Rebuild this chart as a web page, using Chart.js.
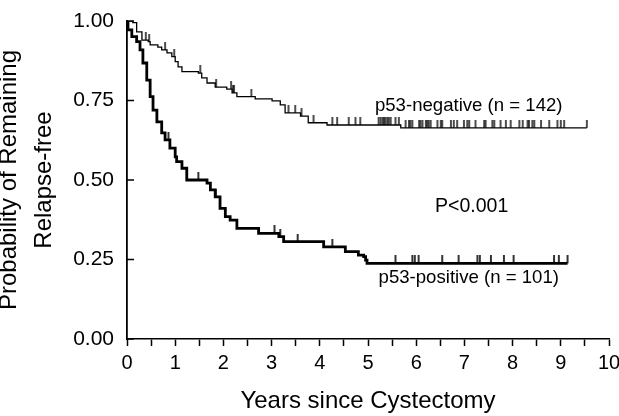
<!DOCTYPE html>
<html>
<head>
<meta charset="utf-8">
<script src="https://cdn.jsdelivr.net/npm/chart.js@4/dist/chart.umd.min.js"></script>
<style>
html,body{margin:0;padding:0;background:#fff;}
#wrap{width:619px;height:416px;position:relative;}
</style>
</head>
<body>
<div id="wrap"><canvas id="c" width="619" height="416"></canvas></div>
<script>
// Kaplan-Meier curves: time (years) where survival drops, and survival after the drop
const negTimes = [0, 0.12, 0.20, 0.31, 0.44, 0.48, 0.64, 0.72, 0.83, 0.93, 1.00, 1.06, 1.14, 1.48, 1.55, 1.66, 1.83, 2.07, 2.18, 2.28, 2.66, 3.01, 3.18, 3.28, 3.60, 3.76, 4.15, 5.68, 9.54];
const negSurv  = [1.00, 0.995, 0.966, 0.94, 0.935, 0.925, 0.918, 0.909, 0.90, 0.888, 0.872, 0.856, 0.841, 0.836, 0.821, 0.805, 0.792, 0.786, 0.774, 0.762, 0.755, 0.749, 0.736, 0.711, 0.701, 0.680, 0.673, 0.664, 0.664];
const negCensor = [0.04, 0.08, 0.39, 0.46, 0.79, 0.98, 1.52, 1.85, 2.16, 2.20, 2.22, 2.58, 3.35, 3.49, 3.62, 3.87, 4.26, 4.36, 4.60, 4.74, 4.84, 5.22, 5.26, 5.30, 5.33, 5.36, 5.40, 5.43, 5.47, 5.57, 5.64, 5.78, 5.85, 5.88, 5.92, 6.06, 6.09, 6.13, 6.20, 6.23, 6.26, 6.30, 6.44, 6.51, 6.54, 6.72, 6.78, 6.85, 6.99, 7.06, 7.10, 7.23, 7.41, 7.44, 7.58, 7.62, 7.75, 7.86, 7.96, 8.14, 8.21, 8.31, 8.34, 8.41, 8.45, 8.59, 8.76, 8.93, 9.00, 9.07, 9.54];

const posTimes = [0, 0.02, 0.10, 0.20, 0.27, 0.33, 0.41, 0.48, 0.54, 0.62, 0.72, 0.79, 0.89, 1.00, 1.03, 1.14, 1.24, 1.66, 1.73, 1.83, 1.93, 2.04, 2.14, 2.28, 2.73, 3.15, 3.25, 4.08, 4.53, 4.80, 4.91, 4.95, 4.98, 9.14];
const posSurv  = [1.00, 0.972, 0.951, 0.935, 0.909, 0.868, 0.814, 0.762, 0.720, 0.683, 0.648, 0.626, 0.600, 0.573, 0.558, 0.537, 0.500, 0.490, 0.469, 0.447, 0.411, 0.385, 0.374, 0.348, 0.332, 0.322, 0.306, 0.290, 0.275, 0.264, 0.259, 0.248, 0.238, 0.238];
const posCensor = [0.86, 1.48, 1.84, 3.06, 3.18, 3.54, 4.26, 5.57, 5.92, 5.97, 6.05, 6.54, 6.88, 7.27, 7.32, 7.55, 7.82, 8.02, 8.86, 8.96, 9.14];

const yTickValues = [0, 0.25, 0.5, 0.75, 1.0];
const xTickLabels = ['0','1','2','3','4','5','6','7','8','9','10'];
const negLabel = 'p53-negative (n = 142)';
const posLabel = 'p53-positive (n = 101)';
const pLabel = 'P<0.001';
const xTitle = 'Years since Cystectomy';
const yTitle = ['Probability of Remaining', 'Relapse-free'];

function kmAt(times, surv, t) {
  let v = surv[0];
  for (let i = 0; i < times.length; i++) { if (times[i] <= t) v = surv[i]; }
  return v;
}
function censorMark(w) {
  const c = document.createElement('canvas');
  c.width = 4; c.height = 16;
  const g = c.getContext('2d');
  g.strokeStyle = '#000'; g.lineWidth = w;
  g.beginPath(); g.moveTo(2, 0); g.lineTo(2, 8); g.stroke();
  return c;
}
const FONT = "'Liberation Sans', Arial, Helvetica, sans-serif";

const textPlugin = {
  id: 'texts',
  afterDraw(chart) {
    const ctx = chart.ctx, xs = chart.scales.x, ys = chart.scales.y;
    ctx.save();
    // inward y ticks
    ctx.strokeStyle = '#000'; ctx.lineWidth = 1.5;
    yTickValues.forEach(v => {
      const y = ys.getPixelForValue(v);
      ctx.beginPath(); ctx.moveTo(xs.left, y); ctx.lineTo(xs.left + 7, y); ctx.stroke();
    });
    ctx.fillStyle = '#000';
    ctx.font = '18.6px ' + FONT;
    ctx.textAlign = 'center'; ctx.textBaseline = 'middle';
    ctx.fillText(negLabel, xs.getPixelForValue(7.09), ys.getPixelForValue(0.733));
    ctx.fillText(posLabel, xs.getPixelForValue(7.09), ys.getPixelForValue(0.192));
    ctx.font = '19.5px ' + FONT;
    ctx.fillText(pLabel, xs.getPixelForValue(7.15), ys.getPixelForValue(0.415));
    ctx.restore();
  }
};

new Chart(document.getElementById('c'), {
  type: 'line',
  data: {
    datasets: [
      {
        data: negTimes.map((t, i) => ({x: t, y: negSurv[i]})),
        borderColor: '#000', borderWidth: 1.3, stepped: 'before', pointRadius: 0, fill: false
      },
      {
        data: posTimes.map((t, i) => ({x: t, y: posSurv[i]})),
        borderColor: '#000', borderWidth: 2.8, stepped: 'before', pointRadius: 0, fill: false
      },
      {
        type: 'scatter',
        data: negCensor.map(t => ({x: t, y: kmAt(negTimes, negSurv, t)})),
        pointStyle: censorMark(1.4), pointRadius: 4, showLine: false
      },
      {
        type: 'scatter',
        data: posCensor.map(t => ({x: t, y: kmAt(posTimes, posSurv, t)})),
        pointStyle: censorMark(1.6), pointRadius: 4, showLine: false
      }
    ]
  },
  options: {
    responsive: false,
    animation: false,
    devicePixelRatio: 1,
    layout: { padding: { left: 0, right: 10, top: 21, bottom: 0 } },
    plugins: { legend: { display: false }, tooltip: { enabled: false } },
    scales: {
      x: {
        type: 'linear', min: 0, max: 10,
        afterFit(s) { s.height = 77; s.paddingRight = 0; s.paddingLeft = 0; },
        border: { display: true, color: '#000', width: 1.6 },
        grid: { display: true, drawOnChartArea: false, drawTicks: true, tickLength: 7, tickColor: '#000', tickWidth: 1.5 },
        ticks: {
          stepSize: 0.5, autoSkip: false, maxRotation: 0, padding: 5, color: '#000',
          font: { size: 20, family: FONT },
          callback: v => (Number.isInteger(v) ? xTickLabels[v] : '')
        },
        title: { display: true, text: xTitle, color: '#000', font: { size: 24, family: FONT }, padding: { top: 0, bottom: 0 } }
      },
      y: {
        type: 'linear', min: 0, max: 1,
        afterFit(s) { s.width = 127; s.paddingTop = 0; s.paddingBottom = 0; },
        afterBuildTicks(s) { s.ticks = yTickValues.map(v => ({value: v})); },
        border: { display: true, color: '#000', width: 1.8 },
        grid: { display: false },
        ticks: { padding: 5, color: '#000', font: { size: 21, family: FONT }, callback: v => v.toFixed(2) },
        title: { display: true, text: yTitle, color: '#000', font: { size: 24, family: FONT, lineHeight: 1.46 }, padding: { top: -8, bottom: 0 } }
      }
    }
  },
  plugins: [textPlugin]
});
</script>
</body>
</html>
